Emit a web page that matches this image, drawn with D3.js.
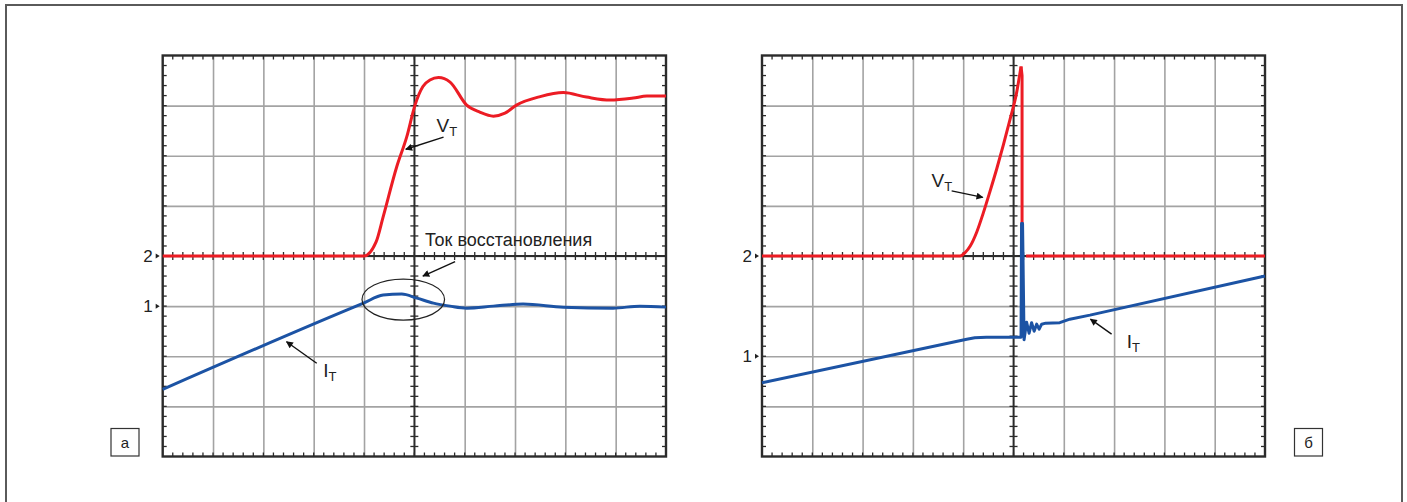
<!DOCTYPE html>
<html><head><meta charset="utf-8">
<script src="https://cdn.jsdelivr.net/npm/d3@7"></script>
<style>body{margin:0;background:#fff}svg{display:block}text{font-family:"Liberation Sans",Arial,sans-serif}</style>
</head><body><svg id="c" width="1407" height="502"></svg>
<script>
// ---- data (x, y in screen divisions: x 0..10, y 0..8) ----
const leftVx = [0,4.0,4.24,4.38,4.65,4.85,5.01,5.17,5.31,5.48,5.71,6.04,6.30,6.57,6.80,7.03,7.50,7.96,8.42,8.89,9.35,9.62,10];
const leftVy = [4.0,4.0,4.28,4.78,5.78,6.38,7.0,7.38,7.51,7.56,7.47,7.01,6.87,6.79,6.85,7.01,7.18,7.26,7.17,7.11,7.15,7.19,7.19];
const leftIx = [0,3.99,4.38,4.75,5.05,5.38,5.71,6.04,6.57,7.16,7.96,8.95,9.48,10];
const leftIy = [1.34,3.06,3.22,3.24,3.16,3.06,3.0,2.96,3.0,3.04,2.98,2.96,3.0,2.98];
const rightVx = [0,3.94,4.04,4.14,4.27,4.40,4.53,4.67,4.80,4.93,5.06,5.15,5.17,5.17,10];
const rightVy = [4.0,4.0,4.07,4.20,4.48,4.86,5.28,5.75,6.22,6.72,7.25,7.78,7.6,4.0,4.0];
const rightIx = [0,4.07,4.23,4.46,5.15,5.16,5.18,5.21,5.26,5.31,5.36,5.41,5.46,5.51,5.56,5.64,5.92,6.12,6.52,10];
const rightIy = [1.47,2.34,2.37,2.38,2.38,4.65,4.65,2.33,2.68,2.46,2.67,2.50,2.64,2.54,2.64,2.66,2.67,2.74,2.82,3.6];
const levelLabels = ["2","1"];
const leftLevels = [4,3], rightLevels = [4,2];
const panelTags = ["а","б"];
const recoveryLabel = "Ток восстановления";

const svg = d3.select("#c");
const RED="#ec1c24", BLUE="#1c53a4", GRID="#a3a3a3", DARK="#2b2b2b";

svg.append("rect").attr("x",6).attr("y",5).attr("width",1396).attr("height",520)
  .attr("fill","none").attr("stroke","#5a5a5a").attr("stroke-width",2);

const defs = svg.append("defs");
defs.append("marker").attr("id","ah").attr("viewBox","0 0 10 10").attr("refX",9).attr("refY",5)
  .attr("markerWidth",10).attr("markerHeight",7).attr("markerUnits","userSpaceOnUse").attr("orient","auto")
  .append("path").attr("d","M0,0L10,5L0,10z").attr("fill","#111");

function panel(x0, W, vx, vy, ix, iy, levels, tag, ann){
  const y0 = 55.5, H = 401;
  const x = d3.scaleLinear().domain([0,10]).range([x0, x0+W]);
  const y = d3.scaleLinear().domain([0,8]).range([y0+H, y0]);
  const g = svg.append("g");
  g.append("g").attr("transform",`translate(0,${y0+H})`)
    .call(d3.axisBottom(x).tickValues(d3.range(1,10)).tickSize(-H).tickFormat(""))
    .call(a=>{a.select(".domain").remove();a.selectAll("line").attr("stroke",GRID).attr("stroke-width",1.6);});
  g.append("g").attr("transform",`translate(${x0},0)`)
    .call(d3.axisLeft(y).tickValues(d3.range(1,8)).tickSize(-W).tickFormat(""))
    .call(a=>{a.select(".domain").remove();a.selectAll("line").attr("stroke",GRID).attr("stroke-width",1.6);});
  const minorX = d3.range(1,50).map(i=>i/5), minorY = d3.range(1,40).map(i=>i/5);
  const tk = 4;
  const tg = g.append("g").attr("stroke",DARK).attr("stroke-width",1.3);
  minorX.forEach(v=>{
    tg.append("line").attr("x1",x(v)).attr("x2",x(v)).attr("y1",y0).attr("y2",y0+tk);
    tg.append("line").attr("x1",x(v)).attr("x2",x(v)).attr("y1",y0+H).attr("y2",y0+H-tk);
    tg.append("line").attr("x1",x(v)).attr("x2",x(v)).attr("y1",y(4)-tk).attr("y2",y(4)+tk);
  });
  minorY.forEach(v=>{
    tg.append("line").attr("y1",y(v)).attr("y2",y(v)).attr("x1",x0).attr("x2",x0+tk);
    tg.append("line").attr("y1",y(v)).attr("y2",y(v)).attr("x1",x0+W).attr("x2",x0+W-tk);
    tg.append("line").attr("y1",y(v)).attr("y2",y(v)).attr("x1",x(5)-tk).attr("x2",x(5)+tk);
  });
  g.append("line").attr("x1",x(5)).attr("x2",x(5)).attr("y1",y0).attr("y2",y0+H).attr("stroke",DARK).attr("stroke-width",1.8);
  g.append("line").attr("x1",x0).attr("x2",x0+W).attr("y1",y(4)).attr("y2",y(4)).attr("stroke",DARK).attr("stroke-width",1.8);
  g.append("rect").attr("x",x0).attr("y",y0).attr("width",W).attr("height",H)
    .attr("fill","none").attr("stroke",DARK).attr("stroke-width",2.4);
  levels.forEach((lv,i)=>{
    g.append("text").attr("x",x0-10).attr("y",y(lv)+6).attr("text-anchor","end")
      .attr("font-size",17).attr("fill","#222").text(levelLabels[i]);
    g.append("path").attr("d",`M${x0-7},${y(lv)-2.5}L${x0-3},${y(lv)}L${x0-7},${y(lv)+2.5}z`).attr("fill","#222");
  });
  const lineV = d3.line().x((d,i)=>x(vx[i])).y((d,i)=>y(vy[i])).curve(d3.curveMonotoneX);
  const lineI = d3.line().x((d,i)=>x(ix[i])).y((d,i)=>y(iy[i])).curve(ann.smooth?d3.curveMonotoneX:d3.curveLinear);
  const lineVLin = d3.line().x(i=>x(vx[i])).y(i=>y(vy[i]));
  if(ann.smooth){
    g.append("path").attr("d",lineV(vx)).attr("fill","none").attr("stroke",RED).attr("stroke-width",3).attr("stroke-linejoin","round");
    g.append("path").attr("d",lineI(ix)).attr("fill","none").attr("stroke",BLUE).attr("stroke-width",3).attr("stroke-linejoin","round");
  } else {
    const nRise = 12;
    g.append("path").attr("d",lineVLin(d3.range(nRise-1,vx.length-1))).attr("fill","none").attr("stroke",RED).attr("stroke-width",3).attr("stroke-linejoin","miter");
    g.append("path").attr("d",lineI(ix)).attr("fill","none").attr("stroke",BLUE).attr("stroke-width",3).attr("stroke-linejoin","round");
    g.append("path").attr("d",lineV(vx.slice(0,nRise))).attr("fill","none").attr("stroke",RED).attr("stroke-width",3).attr("stroke-linejoin","round");
    // flat part after the drop, drawn above the current spike
    g.append("line").attr("x1",x(vx[vx.length-2])+4).attr("x2",x(vx[vx.length-1])).attr("y1",y(vy[vy.length-1])).attr("y2",y(vy[vy.length-1])).attr("stroke",RED).attr("stroke-width",3);
  }
  const arrow=(a)=>g.append("line").attr("x1",x(a[0])).attr("y1",y(a[1])).attr("x2",x(a[2])).attr("y2",y(a[3]))
      .attr("stroke","#111").attr("stroke-width",1.4).attr("marker-end","url(#ah)");
  const sub=(t,p)=>{const tx=g.append("text").attr("x",x(p[0])).attr("y",y(p[1])).attr("font-size",19).attr("fill","#222");
      tx.append("tspan").text(t); tx.append("tspan").attr("font-size",13).attr("dy",4).text("T");};
  sub("V",ann.vText); arrow(ann.vArrow);
  sub("I",ann.iText); arrow(ann.iArrow);
  if(ann.ellipse){
    g.append("ellipse").attr("cx",x(ann.ellipse[0])).attr("cy",y(ann.ellipse[1]))
      .attr("rx",x(ann.ellipse[2])-x(0)).attr("ry",y(0)-y(ann.ellipse[3]))
      .attr("fill","none").attr("stroke","#222").attr("stroke-width",1.2);
    g.append("text").attr("x",x(ann.rText[0])).attr("y",y(ann.rText[1])).attr("font-size",18).attr("fill","#222").text(recoveryLabel);
    arrow(ann.rArrow);
  }
  const bx = ann.tagX;
  g.append("rect").attr("x",bx).attr("y",428.5).attr("width",28).attr("height",27.5).attr("fill","#fff").attr("stroke","#333").attr("stroke-width",1.2);
  g.append("text").attr("x",bx+14).attr("y",448).attr("text-anchor","middle").attr("font-family","'DejaVu Sans',sans-serif").attr("font-size",15).attr("fill","#222").text(tag);
}

panel(162.7, 503.3, leftVx, leftVy, leftIx, leftIy, leftLevels, panelTags[0], {
  smooth:true, vText:[5.44,6.48], vArrow:[5.58,6.37,4.83,6.13], iText:[3.19,1.59], iArrow:[3.06,1.86,2.46,2.29],
  ellipse:[4.78,3.13,0.82,0.41], rText:[5.21,4.19], rArrow:[5.81,3.89,5.17,3.60], tagX:111});
panel(762, 503, rightVx, rightVy, rightIx, rightIy, rightLevels, panelTags[1], {
  smooth:false, vText:[3.37,5.38], vArrow:[3.77,5.30,4.39,5.17], iText:[7.25,2.16], iArrow:[6.95,2.44,6.53,2.74], tagX:1294.5});
</script></body></html>
